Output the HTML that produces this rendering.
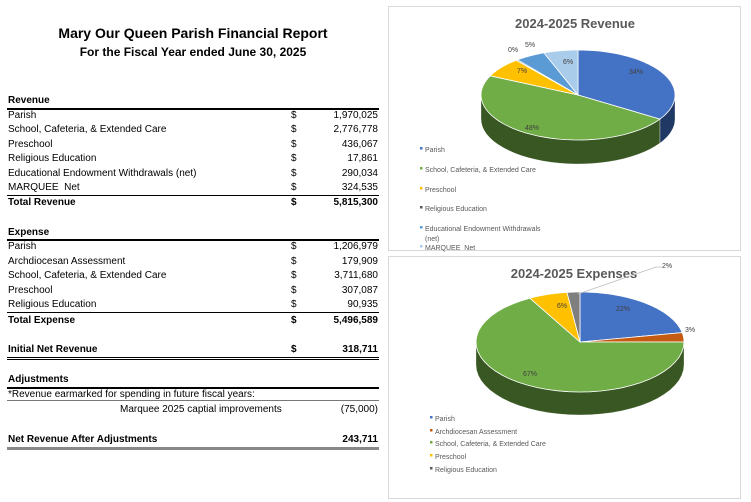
<!DOCTYPE html>
<html><head><meta charset="utf-8">
<style>
body{margin:0;width:751px;height:502px;background:#fff;position:relative;overflow:hidden;font-family:"Liberation Sans",Arial,sans-serif;color:#000}
.t{position:absolute;font-size:10px;white-space:nowrap;line-height:12px}
.b{font-weight:bold}
.d{position:absolute;left:291px;font-size:10px;line-height:12px}
.v{position:absolute;right:373px;font-size:10px;line-height:12px;text-align:right}
.ln{position:absolute;left:7px;width:372px;background:#000}
.box{position:absolute;border:1px solid #d9d9d9;background:#fff}
</style></head><body>
<div class="t b" style="left:0;width:386px;text-align:center;top:25px;font-size:14px;line-height:16px">Mary Our Queen Parish Financial Report</div>
<div class="t b" style="left:0;width:386px;text-align:center;top:45px;font-size:12px;line-height:14px">For the Fiscal Year ended June 30, 2025</div>

<div class="t b" style="left:8px;top:95px">Revenue</div>
<div class="ln" style="top:108px;height:2px"></div>
<div class="t" style="left:8px;top:110px">Parish</div><div class="d" style="top:110px">$</div><div class="v" style="top:110px">1,970,025</div>
<div class="t" style="left:8px;top:124px">School, Cafeteria, &amp; Extended Care</div><div class="d" style="top:124px">$</div><div class="v" style="top:124px">2,776,778</div>
<div class="t" style="left:8px;top:139px">Preschool</div><div class="d" style="top:139px">$</div><div class="v" style="top:139px">436,067</div>
<div class="t" style="left:8px;top:153px">Religious Education</div><div class="d" style="top:153px">$</div><div class="v" style="top:153px">17,861</div>
<div class="t" style="left:8px;top:168px">Educational Endowment Withdrawals (net)</div><div class="d" style="top:168px">$</div><div class="v" style="top:168px">290,034</div>
<div class="t" style="left:8px;top:182px">MARQUEE&nbsp; Net</div><div class="d" style="top:182px">$</div><div class="v" style="top:182px">324,535</div>
<div class="ln" style="top:195px;height:1px"></div>
<div class="t b" style="left:8px;top:197px">Total Revenue</div><div class="d b" style="top:197px">$</div><div class="v b" style="top:197px">5,815,300</div>

<div class="t b" style="left:8px;top:227px">Expense</div>
<div class="ln" style="top:239px;height:2px"></div>
<div class="t" style="left:8px;top:241px">Parish</div><div class="d" style="top:241px">$</div><div class="v" style="top:241px">1,206,979</div>
<div class="t" style="left:8px;top:256px">Archdiocesan Assessment</div><div class="d" style="top:256px">$</div><div class="v" style="top:256px">179,909</div>
<div class="t" style="left:8px;top:270px">School, Cafeteria, &amp; Extended Care</div><div class="d" style="top:270px">$</div><div class="v" style="top:270px">3,711,680</div>
<div class="t" style="left:8px;top:285px">Preschool</div><div class="d" style="top:285px">$</div><div class="v" style="top:285px">307,087</div>
<div class="t" style="left:8px;top:299px">Religious Education</div><div class="d" style="top:299px">$</div><div class="v" style="top:299px">90,935</div>
<div class="ln" style="top:312px;height:1px"></div>
<div class="t b" style="left:8px;top:315px">Total Expense</div><div class="d b" style="top:315px">$</div><div class="v b" style="top:315px">5,496,589</div>

<div class="t b" style="left:8px;top:344px">Initial Net Revenue</div><div class="d b" style="top:344px">$</div><div class="v b" style="top:344px">318,711</div>
<div class="ln" style="top:357px;height:1px"></div><div class="ln" style="top:359px;height:1px"></div>

<div class="t b" style="left:8px;top:374px">Adjustments</div>
<div class="ln" style="top:387px;height:2px"></div>
<div class="t" style="left:8px;top:389px">*Revenue earmarked for spending in future fiscal years:</div>
<div class="ln" style="top:400px;height:1px;background:#777"></div>
<div class="t" style="left:120px;top:404px">Marquee 2025 captial improvements</div><div class="v" style="top:404px">(75,000)</div>
<div class="t b" style="left:8px;top:434px">Net Revenue After Adjustments</div><div class="v b" style="top:434px">243,711</div>
<div class="ln" style="top:447px;height:3px;background:#888"></div>

<div class="box" style="left:388px;top:6px;width:351px;height:243px"></div>
<div class="box" style="left:388px;top:256px;width:351px;height:241px"></div>

<svg id="s" width="751" height="502" style="position:absolute;left:0;top:0" font-family="Liberation Sans, Arial, sans-serif">
<g id="p1"></g><g id="p2"></g>
<text x="575" y="28" font-size="13" font-weight="bold" fill="#595959" text-anchor="middle">2024-2025 Revenue</text>
<g font-size="7" fill="#404040" text-anchor="middle">
<text x="636" y="74">34%</text><text x="532" y="130">48%</text><text x="522" y="73">7%</text>
<text x="513" y="52">0%</text><text x="530" y="47">5%</text><text x="568" y="64">6%</text>
</g>
<g font-size="7" fill="#595959">
<rect x="420" y="147" width="2.5" height="2.5" fill="#4472C4"/><text x="425" y="152">Parish</text>
<rect x="420" y="167" width="2.5" height="2.5" fill="#70AD47"/><text x="425" y="172">School, Cafeteria, &amp; Extended Care</text>
<rect x="420" y="187" width="2.5" height="2.5" fill="#FFC000"/><text x="425" y="192">Preschool</text>
<rect x="420" y="206" width="2.5" height="2.5" fill="#595959"/><text x="425" y="211">Religious Education</text>
<rect x="420" y="226" width="2.5" height="2.5" fill="#5B9BD5"/><text x="425" y="231">Educational Endowment Withdrawals</text>
<text x="425" y="241">(net)</text>
<rect x="420" y="245" width="2.5" height="2.5" fill="#A9CCEB"/><text x="425" y="250">MARQUEE&#160; Net</text>
</g>
<text x="574" y="278" font-size="13" font-weight="bold" fill="#595959" text-anchor="middle">2024-2025 Expenses</text>
<polyline points="578,294 656,267 662,267" fill="none" stroke="#bfbfbf" stroke-width="0.8"/>
<g font-size="7" fill="#404040" text-anchor="middle">
<text x="623" y="311">22%</text><text x="690" y="332">3%</text><text x="530" y="376">67%</text>
<text x="562" y="308">6%</text><text x="667" y="268">2%</text>
</g>
<g font-size="7" fill="#595959">
<rect x="430" y="416" width="2.5" height="2.5" fill="#4472C4"/><text x="435" y="421">Parish</text>
<rect x="430" y="429" width="2.5" height="2.5" fill="#C55A11"/><text x="435" y="434">Archdiocesan Assessment</text>
<rect x="430" y="441" width="2.5" height="2.5" fill="#70AD47"/><text x="435" y="446">School, Cafeteria, &amp; Extended Care</text>
<rect x="430" y="454" width="2.5" height="2.5" fill="#FFC000"/><text x="435" y="459">Preschool</text>
<rect x="430" y="467" width="2.5" height="2.5" fill="#595959"/><text x="435" y="472">Religious Education</text>
</g>
</svg>
<script>
function pie(g,cx,cy,rx,ry,dep,sl){
  var out="";
  function P(a,dy){return [cx+rx*Math.sin(a),cy-ry*Math.cos(a)+(dy||0)];}
  var a=0,arr=[];
  sl.forEach(function(s){var b=a+s[0]*2*Math.PI/100;arr.push([a,b,s[1],s[2]]);a=b;});
  arr.forEach(function(s){
    var a0=Math.max(s[0],Math.PI/2),a1=Math.min(s[1],1.5*Math.PI);
    if(a1<=a0)return;
    var d="M",n=30,i,p;
    for(i=0;i<=n;i++){p=P(a0+(a1-a0)*i/n);d+=(i?" L":"")+p[0].toFixed(1)+","+p[1].toFixed(1);}
    for(i=n;i>=0;i--){p=P(a0+(a1-a0)*i/n,dep);d+=" L"+p[0].toFixed(1)+","+p[1].toFixed(1);}
    out+='<path d="'+d+'Z" fill="'+s[3]+'" stroke="#fff" stroke-width="0.3"/>';
  });
  arr.forEach(function(s){
    var d="M"+cx+","+cy,n=40,i,p;
    for(i=0;i<=n;i++){p=P(s[0]+(s[1]-s[0])*i/n);d+=" L"+p[0].toFixed(1)+","+p[1].toFixed(1);}
    out+='<path d="'+d+'Z" fill="'+s[2]+'" stroke="#fff" stroke-width="0.8"/>';
  });
  g.innerHTML=out;
}
pie(document.getElementById("p1"),578,95,97,45,24,[
 [34,"#4472C4","#203864"],[48,"#70AD47","#385723"],[7,"#FFC000","#7f6000"],[0.3,"#595959","#333"],[5,"#5B9BD5","#2e4e6b"],[5.7,"#A9CCEB","#54667a"]]);
pie(document.getElementById("p2"),580,342,104,50,23,[
 [22,"#4472C4","#203864"],[3,"#C55A11","#612b08"],[67,"#70AD47","#385723"],[6,"#FFC000","#7f6000"],[2,"#7F7F7F","#404040"]]);
</script>
</body></html>
